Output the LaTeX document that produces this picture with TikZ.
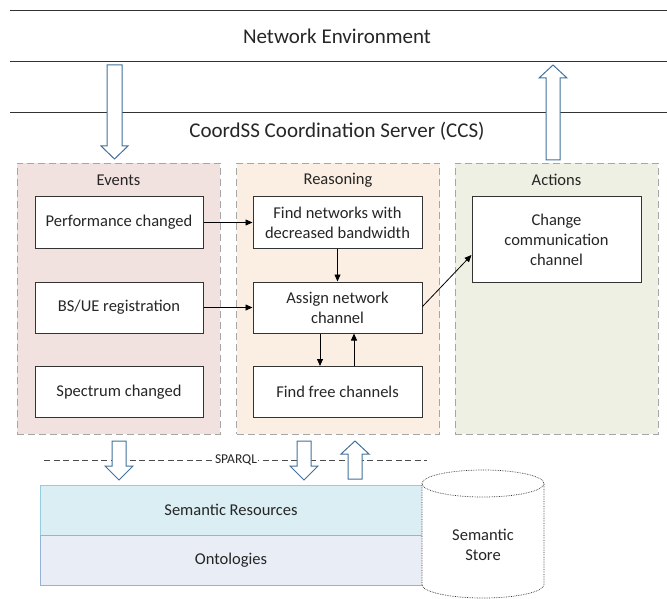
\documentclass[tikz,border=0pt]{standalone}
\usepackage{fontspec}
\setmainfont{Carlito}
\usetikzlibrary{arrows.meta}
\definecolor{evfill}{HTML}{F2E2DF}
\definecolor{refill}{HTML}{FBEEE2}
\definecolor{acfill}{HTML}{EEF0E3}
\definecolor{cgray}{HTML}{A6A6A6}
\definecolor{barrow}{HTML}{41719C}
\definecolor{srfill}{HTML}{DAEEF3}
\definecolor{srline}{HTML}{93CDDD}
\definecolor{onfill}{HTML}{E9EDF5}
\definecolor{online}{HTML}{95B3D7}
\definecolor{txt}{HTML}{262626}
\begin{document}
\begin{tikzpicture}[x=1pt,y=-1pt,
  every node/.style={text=txt},
  container/.style={draw=cgray, dashed, dash pattern=on 7pt off 4pt, line width=0.9pt, minimum width=203pt, minimum height=271pt, inner sep=0pt},
  header/.style={font=\fontsize{16.5}{20}\selectfont},
  task/.style={draw=black!80, fill=white, line width=1pt, minimum width=168pt, minimum height=51pt, align=center, inner sep=2pt, font=\fontsize{16.5}{20}\selectfont},
  title/.style={font=\fontsize{21}{25}\selectfont},
  conn/.style={line width=0.8pt, -{Triangle[length=7pt,width=6pt]}},
  blockarrow/.style={draw=barrow, fill=white, line width=1pt, line join=miter},
  layer/.style={minimum width=382pt, minimum height=50pt, line width=1pt, inner sep=0pt, font=\fontsize{16.5}{20}\selectfont},
  hline/.style={draw=black!80, line width=1pt}
]
\useasboundingbox (0,0) rectangle (667,599);

% horizontal lines and titles
\draw[hline] (10,11) -- (667,11);
\draw[hline] (10,62) -- (667,62);
\draw[hline] (10,113) -- (667,113);
\node[title] (netenv) at (337,36) {Network Environment};
\node[title] (ccs) at (337,131) {CoordSS Coordination Server (CCS)};

% containers
\node[container, fill=evfill] (events) at (118.5,298.5) {};
\node[container, fill=refill] (reasoning) at (338,298.5) {};
\node[container, fill=acfill] (actions) at (556.5,298.5) {};
\node[header] (hev) at (118.5,180) {Events};
\node[header] (hre) at (338,180) {Reasoning};
\node[header] (hac) at (556.5,180) {Actions};

% tasks
\node[task] (perf) at (119,222.5) {Performance changed};
\node[task] (bsue) at (119,307.5) {BS/UE registration};
\node[task] (spec) at (119,392) {Spectrum changed};
\node[task, minimum width=169pt] (find) at (337.5,222.5) {Find networks with\\decreased bandwidth};
\node[task, minimum width=169pt] (assign) at (337.5,307.5) {Assign network\\channel};
\node[task, minimum width=169pt] (free) at (337.5,392) {Find free channels};
\node[task, minimum width=169pt, minimum height=85pt] (change) at (556.5,239.5) {Change\\communication\\channel};

% connectors
\draw[conn] (perf.east) -- (find.west);
\draw[conn] (bsue.east) -- (assign.west);
\draw[conn] (find.south) -- (assign.north);
\draw[conn] ([xshift=-17.5pt]assign.south) -- ([xshift=-17.5pt]free.north);
\draw[conn] ([xshift=16.5pt]free.north) -- ([xshift=16.5pt]assign.south);
\draw[conn] ([yshift=1pt]assign.east) -- ([yshift=-15.5pt]change.west);

% top block arrows
\draw[blockarrow] (107,65) -- (122,65) -- (122,146) -- (128,146) -- (114.5,159) -- (101,146) -- (107,146) -- cycle;
\draw[blockarrow] (546,160) -- (560,160) -- (560,78) -- (567,78) -- (553,65) -- (539,78) -- (546,78) -- cycle;

% SPARQL line
\coordinate (sl) at (44,460);
\coordinate (sr) at (427,460);
\draw[draw=black!70, line width=0.9pt, dash pattern=on 6pt off 3.5pt] (sl) -- (sr);
\node[fill=white, inner sep=1pt, font=\fontsize{13.5}{16}\selectfont] (sparql) at (236,460) {SPARQL};

% bottom block arrows
\draw[blockarrow] (112,441) -- (126,441) -- (126,466) -- (133,466) -- (119,480) -- (105,466) -- (112,466) -- cycle;
\draw[blockarrow] (297,441) -- (311,441) -- (311,466) -- (318,466) -- (304,480) -- (290,466) -- (297,466) -- cycle;
\draw[blockarrow] (348,479) -- (362,479) -- (362,454) -- (369,454) -- (355,441) -- (341,454) -- (348,454) -- cycle;

% semantic layers
\node[layer, fill=srfill, draw=srline] (semres) at (231,510) {Semantic Resources};
\node[layer, fill=onfill, draw=online] (onto) at (231,560) {Ontologies};

% cylinder
\draw[black!80, line width=0.7pt, densely dotted, fill=white]
  (422,483.5) -- (422,584.5) .. controls (422,591.96) and (449.3,598) .. (483,598)
  .. controls (516.7,598) and (544,591.96) .. (544,584.5) -- (544,483.5);
\draw[black!80, line width=0.7pt, densely dotted, fill=white] (483,483.5) ellipse [x radius=61, y radius=13.5];
\node[align=center, font=\fontsize{16.5}{20}\selectfont] (store) at (483,545) {Semantic\\Store};
\end{tikzpicture}
\end{document}
